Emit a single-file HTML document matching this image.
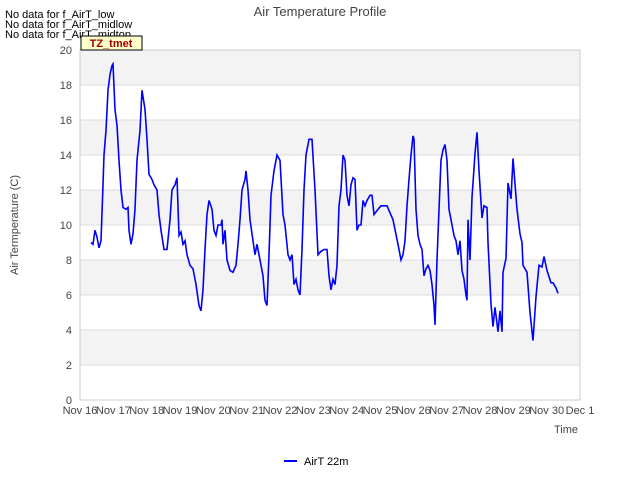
<!DOCTYPE html>
<html><head><meta charset="utf-8"><style>
body{margin:0;background:#fff;font-family:"Liberation Sans","DejaVu Sans",sans-serif}
svg text{font-family:"Liberation Sans","DejaVu Sans",sans-serif}
</style></head><body>
<svg id="chart" width="640" height="480" viewBox="0 0 640 480" xmlns="http://www.w3.org/2000/svg">
<rect width="640" height="480" fill="#fff"/>
<g id="bands"></g>
<g id="grid"></g>
<rect x="80" y="50" width="500" height="350" fill="none" stroke="#ccc"/>
<g id="yticks"></g>
<g id="xticks"></g>
<path id="line" fill="none" stroke="#0000ff" stroke-width="1.6"/>
<text x="320" y="16" text-anchor="middle" font-size="13" fill="#444">Air Temperature Profile</text>
<text transform="translate(18,225) rotate(-90)" text-anchor="middle" font-size="11" fill="#444">Air Termperature (C)</text>
<text x="578" y="433" text-anchor="end" font-size="11" fill="#444">Time</text>
<text x="5" y="18" font-size="11" fill="#000">No data for f_AirT_low</text>
<text x="5" y="28" font-size="11" fill="#000">No data for f_AirT_midlow</text>
<text x="5" y="38" font-size="11" fill="#000">No data for f_AirT_midtop</text>
<g>
<rect x="81" y="36" width="61" height="14" fill="#ffffcc" stroke="#000"/>
<text x="111" y="47" text-anchor="middle" font-size="11" font-weight="bold" fill="#a00000">TZ_tmet</text>
</g>
<g>
<line x1="284" y1="461" x2="297" y2="461" stroke="#0000ff" stroke-width="2"/>
<text x="304" y="465" font-size="11" fill="#000">AirT 22m</text>
</g>
</svg>
<script>
const xTickLabels=["Nov 16","Nov 17","Nov 18","Nov 19","Nov 20","Nov 21","Nov 22","Nov 23","Nov 24","Nov 25","Nov 26","Nov 27","Nov 28","Nov 29","Nov 30","Dec 1"];
const yTicks=[0,2,4,6,8,10,12,14,16,18,20];
const days=[0.33,0.39,0.45,0.51,0.57,0.63,0.69,0.72,0.78,0.84,0.90,0.96,0.99,1.05,1.11,1.17,1.23,1.29,1.38,1.44,1.47,1.53,1.59,1.65,1.71,1.80,1.86,1.95,2.01,2.07,2.16,2.22,2.31,2.37,2.43,2.52,2.61,2.70,2.76,2.85,2.91,2.97,3.03,3.09,3.15,3.21,3.30,3.39,3.48,3.57,3.63,3.69,3.75,3.81,3.87,3.96,4.02,4.08,4.14,4.23,4.26,4.29,4.35,4.41,4.50,4.59,4.68,4.74,4.80,4.86,4.95,4.98,5.04,5.10,5.19,5.25,5.31,5.40,5.49,5.55,5.61,5.67,5.73,5.82,5.91,6.00,6.09,6.15,6.24,6.30,6.36,6.42,6.48,6.54,6.60,6.66,6.72,6.78,6.87,6.96,7.05,7.14,7.23,7.32,7.41,7.47,7.53,7.59,7.65,7.71,7.77,7.83,7.89,7.95,8.01,8.07,8.13,8.19,8.25,8.31,8.37,8.43,8.49,8.55,8.61,8.70,8.76,8.82,8.94,9.03,9.21,9.39,9.54,9.63,9.69,9.75,9.81,9.87,9.93,9.99,10.02,10.08,10.14,10.20,10.26,10.32,10.38,10.44,10.50,10.56,10.62,10.65,10.71,10.77,10.83,10.89,10.95,11.01,11.07,11.13,11.22,11.28,11.34,11.40,11.46,11.52,11.58,11.61,11.64,11.70,11.76,11.79,11.85,11.91,11.97,12.06,12.12,12.21,12.24,12.33,12.39,12.45,12.54,12.60,12.66,12.69,12.78,12.84,12.93,12.99,13.11,13.20,13.26,13.29,13.41,13.50,13.59,13.68,13.77,13.86,13.92,14.01,14.13,14.19,14.28,14.34];
const temps=[9.0,8.9,9.7,9.3,8.7,9.1,12.3,14.0,15.4,17.7,18.6,19.1,19.2,16.6,15.7,13.7,12.0,11.0,10.9,11.0,9.7,8.9,9.5,10.9,13.7,15.4,17.7,16.6,14.9,12.9,12.6,12.3,12.0,10.6,9.7,8.6,8.6,10.3,12.0,12.3,12.7,9.4,9.6,8.9,9.1,8.3,7.7,7.5,6.6,5.4,5.1,6.3,8.6,10.6,11.4,10.9,9.7,9.4,10.0,10.0,10.3,8.9,9.7,8.0,7.4,7.3,7.7,8.9,10.3,12.0,12.6,13.1,12.0,10.3,9.1,8.3,8.9,8.0,7.1,5.7,5.4,8.3,11.7,13.1,14.0,13.7,10.6,10.0,8.3,8.0,8.3,6.6,6.9,6.3,6.0,8.6,12.0,14.0,14.9,14.9,12.0,8.3,8.5,8.6,8.6,7.1,6.3,6.9,6.6,7.7,11.1,12.0,14.0,13.7,11.7,11.1,12.3,12.7,12.6,9.7,10.0,10.0,11.4,11.1,11.4,11.7,11.7,10.6,10.9,11.1,11.1,10.3,8.9,8.0,8.3,9.1,11.1,12.6,14.0,15.1,14.9,10.9,9.4,8.9,8.6,7.1,7.5,7.7,7.4,6.6,5.4,4.3,8.0,10.9,13.7,14.3,14.6,13.7,10.9,10.3,9.4,9.1,8.3,9.1,7.4,6.9,6.0,5.7,10.3,8.0,11.6,12.4,14.1,15.3,13.1,10.4,11.1,11.0,9.0,5.5,4.2,5.3,3.9,5.1,3.9,7.3,8.1,12.4,11.5,13.8,10.9,9.5,9.0,7.7,7.3,5.0,3.4,5.9,7.7,7.6,8.2,7.4,6.7,6.7,6.4,6.1];
const NS="http://www.w3.org/2000/svg";
const X0=80,X1=580,Y0=400,Y1=50;
function xs(d){return X0+d*(X1-X0)/15;}
function ys(v){return Y0-v*(Y0-Y1)/20;}
function mk(tag,attrs,parent){const e=document.createElementNS(NS,tag);for(const k in attrs)e.setAttribute(k,attrs[k]);parent.appendChild(e);return e;}
const bands=document.getElementById('bands'),grid=document.getElementById('grid'),yt=document.getElementById('yticks'),xt=document.getElementById('xticks');
for(let i=0;i<yTicks.length-1;i++){
  if(i%2===1){const r=mk('rect',{x:X0,y:ys(yTicks[i+1]),width:X1-X0,height:ys(yTicks[i])-ys(yTicks[i+1]),fill:'#f3f3f3'},bands);
  
  }
}
yTicks.forEach(v=>{
  const l=mk('line',{x1:X0,x2:X1,y1:ys(v),y2:ys(v),stroke:'#dcdcdc'},grid);
  
  
  const t=mk('text',{x:X0-8,y:ys(v)+4,'text-anchor':'end','font-size':11,fill:'#444'},yt);
  t.textContent=v;
  
  
});
xTickLabels.forEach((s,i)=>{
  const t=mk('text',{x:xs(i),y:414,'text-anchor':'middle','font-size':11,fill:'#444'},xt);
  t.textContent=s;
  
  
});
let d="";
days.forEach((v,i)=>{d+=(i?"L":"M")+xs(v).toFixed(1)+","+ys(temps[i]).toFixed(1);});
document.getElementById('line').setAttribute('d',d);
</script>
</body></html>
